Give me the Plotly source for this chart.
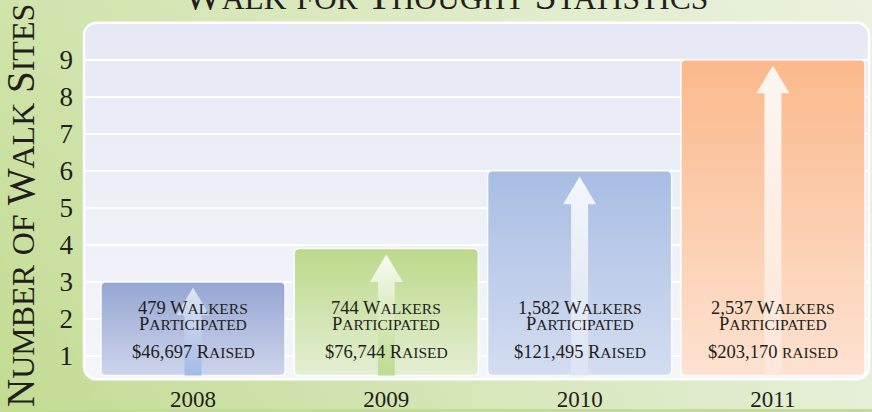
import numpy as np
import plotly.graph_objects as go

# ---------------- data ----------------
years = ["2008", "2009", "2010", "2011"]
walk_sites = [3.0, 3.9, 6.0, 9.0]
walkers = ["479 Walkers", "744 Walkers", "1,582 Walkers", "2,537 Walkers"]
participated = ["Participated", "Participated", "Participated", "Participated"]
raised = ["$46,697 Raised", "$76,744 Raised", "$121,495 Raised", "$203,170 raised"]
y_tick_values = [1, 2, 3, 4, 5, 6, 7, 8, 9]

title_text = "Walk for Thought Statistics"
y_title_text = "Number of Walk Sites"

# ---------------- styles ----------------
W, H = 872, 412
INK = "#221e1c"
SERIF = "Liberation Serif, Times New Roman, serif"

bar_top_colors = ["#96a6d3", "#bcd98b", "#a8bde4", "#fbb98c"]
bar_bottom_colors = ["#cdd4ec", "#e4efd3", "#d4ddf1", "#fde2d1"]
arrow_top_colors = ["rgba(225,232,246,0.95)", "rgba(250,252,244,0.97)", "rgba(246,248,252,0.97)", "rgba(252,248,245,0.97)"]
arrow_bottom_colors = ["rgba(160,186,230,0.95)", "rgba(188,218,138,0.95)", "rgba(222,229,244,0.9)", "rgba(254,232,218,0.9)"]

BG_LEFT, BG_RIGHT = "#c3dc93", "#e6efd8"
PANEL_TOP, PANEL_BOTTOM = "#e6e9f5", "#f5f6fa"

PANEL_L, PANEL_R, PANEL_T, PANEL_B = 84, 869, 23, 382
X_RANGE = [-0.564, 3.497]
Y_RANGE = [0.37, 10.0]
BAR_BASE = 0.47
BAR_W = 0.952

px_per_x = (PANEL_R - PANEL_L) / (X_RANGE[1] - X_RANGE[0])
px_per_y = (PANEL_B - PANEL_T) / (Y_RANGE[1] - Y_RANGE[0])


def yv(px):
    """pixel row -> y2 value"""
    return Y_RANGE[0] + (PANEL_B - px) / px_per_y


def rounded_rect(x0, x1, y0, y1, rx, ry, n=8):
    pts = []
    corners = [(x1 - rx, y0 + ry, -90, 0), (x1 - rx, y1 - ry, 0, 90),
               (x0 + rx, y1 - ry, 90, 180), (x0 + rx, y0 + ry, 180, 270)]
    for cx, cy, a0, a1 in corners:
        for a in np.linspace(np.radians(a0), np.radians(a1), n):
            pts.append((cx + rx * np.cos(a), cy + ry * np.sin(a)))
    pts.append(pts[0])
    xs, ys = zip(*pts)
    return list(xs), list(ys)


def smallcaps(s, big, small):
    runs = []
    for ch in s:
        kind = small if ch.islower() else big
        if runs and runs[-1][0] == kind:
            runs[-1][1] += ch.upper()
        else:
            runs.append([kind, ch.upper()])
    return "".join(f'<span style="font-size:{k}px">{t}</span>' for k, t in runs)


fig = go.Figure()

# background gradient
fig.add_trace(go.Scatter(
    x=[0, W, W, 0, 0], y=[0, 0, H, H, 0], mode="lines", fill="toself",
    line=dict(width=0),
    fillgradient=dict(type="horizontal", colorscale=[[0, BG_LEFT], [1, BG_RIGHT]]),
    hoverinfo="skip", showlegend=False, xaxis="x", yaxis="y"))
fig.add_trace(go.Scatter(
    x=[0, W, W, 0, 0], y=[0, 0, H, H, 0], mode="lines", fill="toself",
    line=dict(width=0),
    fillgradient=dict(type="vertical", colorscale=[[0, "rgba(255,255,255,0)"], [1, "rgba(255,255,255,0.22)"]]),
    hoverinfo="skip", showlegend=False, xaxis="x", yaxis="y"))

# panel
pxs, pys = rounded_rect(PANEL_L, PANEL_R, H - PANEL_B, H - PANEL_T, 12, 12)
fig.add_trace(go.Scatter(
    x=pxs, y=pys, mode="lines", fill="toself",
    line=dict(color="white", width=2.5),
    fillgradient=dict(type="vertical", colorscale=[[0, PANEL_BOTTOM], [1, PANEL_TOP]]),
    hoverinfo="skip", showlegend=False, xaxis="x", yaxis="y"))

# bars + arrows
rx, ry = 4 / px_per_x, 4 / px_per_y
sw, hw, hh = 17 / px_per_x, 33 / px_per_x, 28 / px_per_y
for i, v in enumerate(walk_sites):
    bx, by = rounded_rect(i - BAR_W / 2, i + BAR_W / 2, BAR_BASE, v, rx, ry)
    fig.add_trace(go.Scatter(
        x=bx, y=by, mode="lines", fill="toself",
        line=dict(color="rgba(255,255,255,0.9)", width=1.5),
        fillgradient=dict(type="vertical", colorscale=[[0, bar_bottom_colors[i]], [1, bar_top_colors[i]]]),
        hoverinfo="skip", showlegend=False, xaxis="x2", yaxis="y2"))
    tip = v - 0.15
    ax_ = [i - sw / 2, i + sw / 2, i + sw / 2, i + hw / 2, i, i - hw / 2, i - sw / 2, i - sw / 2]
    ay_ = [BAR_BASE, BAR_BASE, tip - hh, tip - hh, tip, tip - hh, tip - hh, BAR_BASE]
    fig.add_trace(go.Scatter(
        x=ax_, y=ay_, mode="lines", fill="toself", line=dict(width=0),
        fillgradient=dict(type="vertical", colorscale=[[0, arrow_bottom_colors[i]], [1, arrow_top_colors[i]]]),
        hoverinfo="skip", showlegend=False, xaxis="x2", yaxis="y2"))

annotations = []
for i in range(len(years)):
    annotations.append(dict(
        x=i, y=yv(318), xref="x2", yref="y2", showarrow=False,
        xanchor="center", yanchor="middle",
        text=smallcaps(walkers[i], 18.5, 15.5) + "<br>" + smallcaps(participated[i], 18.5, 15.5),
        font=dict(family=SERIF, size=12.4, color=INK)))
    annotations.append(dict(
        x=i, y=yv(355), xref="x2", yref="y2", showarrow=False,
        xanchor="center", yanchor="middle",
        text=smallcaps(raised[i], 18.5, 15.5),
        font=dict(family=SERIF, size=18.5, color=INK)))

annotations.append(dict(
    x=446 / W, y=(H + 5) / H, xref="paper", yref="paper", showarrow=False,
    xanchor="center", yanchor="middle",
    text=smallcaps(title_text, 40, 31.5),
    font=dict(family=SERIF, size=40, color=INK)))
annotations.append(dict(
    x=20.5 / W, y=(H - 207) / H, xref="paper", yref="paper", showarrow=False,
    xanchor="center", yanchor="middle", textangle=-90,
    text=smallcaps(y_title_text, 39, 32),
    font=dict(family=SERIF, size=39, color=INK)))

fig.update_layout(
    width=W, height=H, autosize=False,
    margin=dict(l=0, r=0, t=0, b=0, pad=0),
    paper_bgcolor=BG_LEFT, plot_bgcolor="rgba(0,0,0,0)",
    showlegend=False, hovermode=False,
    xaxis=dict(domain=[0, 1], range=[0, W], visible=False, fixedrange=True),
    yaxis=dict(domain=[0, 1], range=[0, H], visible=False, fixedrange=True),
    xaxis2=dict(domain=[PANEL_L / W, PANEL_R / W], range=X_RANGE, anchor="y2",
                tickvals=list(range(len(years))), ticktext=years,
                showgrid=False, zeroline=False, showline=False, ticks="",
                tickfont=dict(family=SERIF, size=23, color=INK),
                ticklabelstandoff=4, fixedrange=True),
    yaxis2=dict(domain=[(H - PANEL_B) / H, (H - PANEL_T) / H], range=Y_RANGE, anchor="x2",
                tickvals=y_tick_values, showgrid=True, gridcolor="white", gridwidth=2,
                zeroline=False, showline=False, ticks="",
                tickfont=dict(family=SERIF, size=27, color=INK),
                ticklabelstandoff=10, fixedrange=True),
    annotations=annotations,
)

fig.write_html("out.html")
